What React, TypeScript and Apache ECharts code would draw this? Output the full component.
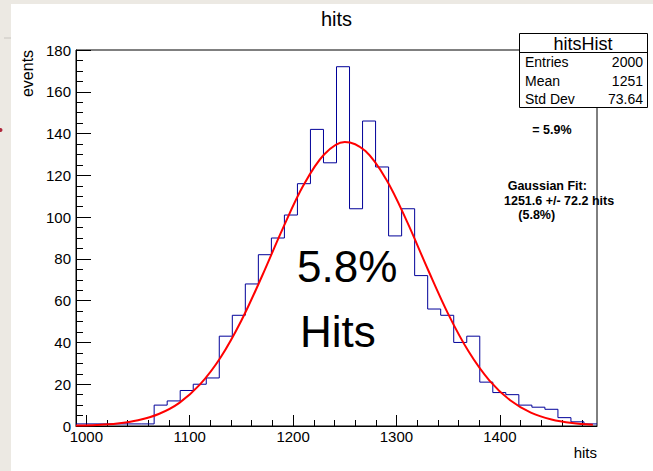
import React, { useEffect, useRef } from "react";
import * as echarts from "echarts";

// ---- data ----
const binStart = 990;
const binWidth = 12.6;
const binCounts = [
  1, 1, 1, 1, 1, 1, 10, 12, 17, 20,
  23, 43, 53, 68, 82, 90, 101, 116, 142, 126,
  172, 104, 146, 124, 91, 104, 72, 56, 53, 40,
  43, 21, 16, 15, 10, 9, 8, 4, 2, 1,
];
const fitX = [
  990, 1010, 1030, 1050, 1070, 1090, 1110, 1130, 1150, 1170, 1190, 1210, 1230,
  1250, 1270, 1290, 1310, 1330, 1350, 1370, 1390, 1410, 1430, 1450, 1470, 1490,
];
const fitY = [
  0.19, 0.5, 1.22, 2.76, 5.75, 11.1, 19.9, 32.9, 50.5, 71.8, 94.5, 115.2, 130.0,
  136.0, 131.6, 118.1, 98.1, 75.4, 53.7, 35.5, 21.7, 12.3, 6.4, 3.1, 1.4, 0.58,
];
const xMajorTicks = [1000, 1100, 1200, 1300, 1400];
const xMinorTicks = [
  1000, 1020, 1040, 1060, 1080, 1100, 1120, 1140, 1160, 1180, 1200, 1220, 1240,
  1260, 1280, 1300, 1320, 1340, 1360, 1380, 1400, 1420, 1440, 1460, 1480,
];
const yMinorTicks = [
  5, 10, 15, 25, 30, 35, 45, 50, 55, 65, 70, 75, 85, 90, 95, 105, 110, 115,
  125, 130, 135, 145, 150, 155, 165, 170, 175,
];
const statsLabels = ["Entries", "Mean", "Std Dev"];
const statsValues = ["2000", "1251", "73.64"];
const titleText = "hits";
const xTitle = "hits";
const yTitle = "events";
const statsTitle = "hitsHist";
const fitNote = ["Gaussian Fit:", "1251.6 +/- 72.2 hits", "(5.8%)"];
const resNote = "= 5.9%";
const bigText = ["5.8%", "Hits"];

const FONT = "'Liberation Sans', Arial, Helvetica, sans-serif";

export default function App() {
  const ref = useRef<HTMLDivElement>(null);
  useEffect(() => {
    document.body.style.margin = "0";
    if (!ref.current) return;
    const chart = echarts.init(ref.current, null, { renderer: "svg" });

    const xMin = binStart;
    const xMax = binStart + binCounts.length * binWidth;
    const histPoints: number[][] = binCounts.map((c, i) => [binStart + i * binWidth, c]);
    histPoints.push([xMax, binCounts[binCounts.length - 1]]);
    const fitPoints = fitX.map((x, i) => [x, fitY[i]]);

    const black = "#000";
    const gridPos = { left: 76, right: 56, top: 50, bottom: 45 };

    const rowY = [61.8, 80.8, 99.1];
    const statsGraphics: any[] = [];
    statsLabels.forEach((lab, i) => {
      statsGraphics.push({
        type: "text", x: 525, y: rowY[i], z: 101,
        style: { text: lab, fill: black, fontSize: 14, fontFamily: FONT, align: "left", verticalAlign: "middle" },
      });
      statsGraphics.push({
        type: "text", x: 643, y: rowY[i], z: 101,
        style: { text: statsValues[i], fill: black, fontSize: 14, fontFamily: FONT, align: "right", verticalAlign: "middle" },
      });
    });

    const option: any = {
      animation: false,
      backgroundColor: "#ffffff",
      grid: [
        { ...gridPos, show: true, borderColor: black, borderWidth: 1, backgroundColor: "transparent", containLabel: false, outerBoundsMode: "none" },
        { ...gridPos, show: false, containLabel: false, outerBoundsMode: "none" },
      ],
      xAxis: [
        {
          type: "value", gridIndex: 0, min: xMin, max: xMax, position: "bottom",
          axisLine: { show: true, onZero: false, lineStyle: { color: black, width: 1 } },
          axisTick: { show: true, inside: true, length: 11, customValues: xMajorTicks, lineStyle: { color: black } },
          axisLabel: {
            show: true, customValues: xMajorTicks, fontSize: 15, color: black, fontFamily: FONT, margin: 3,
            formatter: (v: number) => String(v),
          },
          splitLine: { show: false },
        },
        {
          type: "value", gridIndex: 1, min: xMin, max: xMax, position: "bottom",
          axisLine: { show: false },
          axisTick: { show: true, inside: true, length: 6, customValues: xMinorTicks, lineStyle: { color: black } },
          axisLabel: { show: false },
          splitLine: { show: false },
        },
      ],
      yAxis: [
        {
          type: "value", gridIndex: 0, min: 0, max: 180, interval: 20, position: "left",
          axisLine: { show: true, onZero: false, lineStyle: { color: black, width: 1 } },
          axisTick: { show: true, inside: true, length: 15, lineStyle: { color: black } },
          axisLabel: { fontSize: 15, color: black, fontFamily: FONT, margin: 5, formatter: (v: number) => String(v) },
          splitLine: { show: false },
        },
        {
          type: "value", gridIndex: 1, min: 0, max: 180, position: "left",
          axisLine: { show: false },
          axisTick: { show: true, inside: true, length: 7, customValues: yMinorTicks, lineStyle: { color: black } },
          axisLabel: { show: false },
          splitLine: { show: false },
        },
      ],
      series: [
        {
          name: "hitsHist", type: "line", xAxisIndex: 0, yAxisIndex: 0, step: "end",
          data: histPoints, symbol: "none", lineStyle: { color: "#000099", width: 1 }, z: 3,
        },
        {
          name: "Gaussian fit", type: "line", xAxisIndex: 0, yAxisIndex: 0, smooth: 0.35,
          data: fitPoints, symbol: "none", lineStyle: { color: "#ff0000", width: 2 }, z: 4,
        },
      ],
      graphic: [
        // page background strips
        { type: "rect", shape: { x: 0, y: 0, width: 11, height: 471 }, style: { fill: "#ece9e3" }, z: 0 },
        { type: "rect", shape: { x: 0, y: 0, width: 653, height: 4 }, style: { fill: "#ece9e3" }, z: 0 },
        { type: "line", shape: { x1: 4, y1: 38, x2: 11, y2: 38 }, style: { stroke: "#c8c5c0", lineWidth: 1 }, z: 1 },
        { type: "circle", shape: { cx: 0.5, cy: 130, r: 2 }, style: { fill: "#b0283c" }, z: 1 },
        // title & axis titles
        { type: "text", x: 336.5, y: 19, z: 50, style: { text: titleText, fill: black, fontSize: 20, fontFamily: FONT, align: "center", verticalAlign: "middle" } },
        { type: "text", x: 597, y: 452.4, z: 50, style: { text: xTitle, fill: black, fontSize: 15, fontFamily: FONT, align: "right", verticalAlign: "middle" } },
        { type: "text", x: 27.4, y: 73.5, rotation: Math.PI / 2, z: 50, style: { text: yTitle, fill: black, fontSize: 16, fontFamily: FONT, align: "center", verticalAlign: "middle" } },
        // big annotations
        { type: "text", x: 297, y: 266, z: 50, style: { text: bigText[0], fill: black, fontSize: 44, fontFamily: FONT, align: "left", verticalAlign: "middle" } },
        { type: "text", x: 300, y: 331, z: 50, style: { text: bigText[1], fill: black, fontSize: 44, fontFamily: FONT, align: "left", verticalAlign: "middle" } },
        // bold notes
        { type: "text", x: 532.3, y: 130, z: 50, style: { text: resNote, fill: black, fontSize: 12.5, fontWeight: "bold", fontFamily: FONT, align: "left", verticalAlign: "middle" } },
        { type: "text", x: 507.7, y: 186.3, z: 50, style: { text: fitNote[0], fill: black, fontSize: 12.5, fontWeight: "bold", fontFamily: FONT, align: "left", verticalAlign: "middle" } },
        { type: "text", x: 504, y: 200.6, z: 50, style: { text: fitNote[1], fill: black, fontSize: 12.5, fontWeight: "bold", fontFamily: FONT, align: "left", verticalAlign: "middle" } },
        { type: "text", x: 518.3, y: 215, z: 50, style: { text: fitNote[2], fill: black, fontSize: 12.5, fontWeight: "bold", fontFamily: FONT, align: "left", verticalAlign: "middle" } },
        // stats box
        { type: "rect", shape: { x: 519.5, y: 33.5, width: 128, height: 74 }, style: { fill: "#ffffff", stroke: black, lineWidth: 1 }, z: 100 },
        { type: "line", shape: { x1: 519.5, y1: 52.5, x2: 647.5, y2: 52.5 }, style: { stroke: black, lineWidth: 1 }, z: 101 },
        { type: "text", x: 583, y: 43.5, z: 101, style: { text: statsTitle, fill: black, fontSize: 18, fontFamily: FONT, align: "center", verticalAlign: "middle" } },
        ...statsGraphics,
      ],
    };
    chart.setOption(option);
    return () => chart.dispose();
  }, []);
  return <div ref={ref} style={{ width: 653, height: 471 }} />;
}
